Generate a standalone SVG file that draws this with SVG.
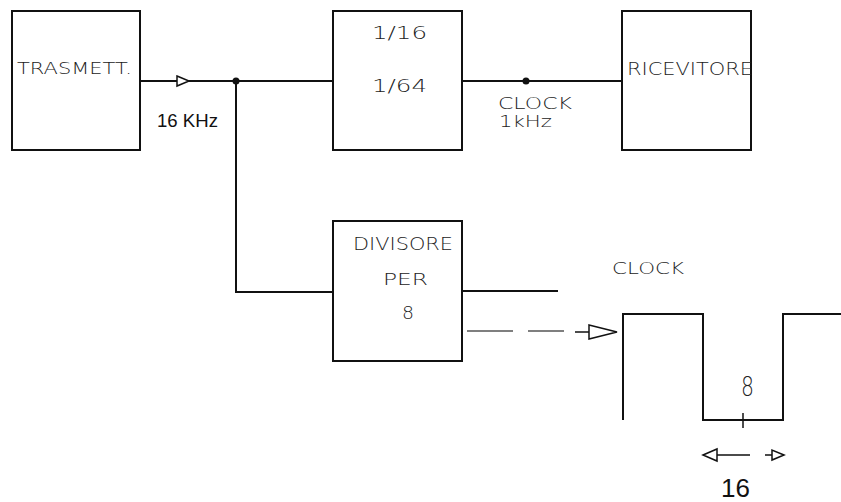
<svg xmlns="http://www.w3.org/2000/svg" width="841" height="502" viewBox="0 0 841 502">
<style>
.box{fill:#fff;stroke:#111;stroke-width:2}
.ln{fill:none;stroke:#111;stroke-width:2}
.thin{fill:none;stroke:#111;stroke-width:1.5}
.dash{fill:none;stroke:#555;stroke-width:1.5}
.tri{fill:#fff;stroke:#111;stroke-width:1.5;stroke-linejoin:miter}
.t{font-family:"DejaVu Sans ExtraLight","DejaVu Sans",sans-serif;fill:#222;font-weight:200}
.a{font-family:"Liberation Sans",Arial,sans-serif;fill:#111}
</style>
<rect width="841" height="502" fill="#fff"/>
<g id="connectors">
<path class="ln" d="M140,81 H333"/>
<path class="ln" d="M236,81 V292 H333"/>
<path class="ln" d="M462,81 H622"/>
<path class="ln" d="M462,291 H558"/>
<circle cx="236" cy="81" r="3.5" fill="#111"/>
<circle cx="526" cy="81" r="3.5" fill="#111"/>
<polygon class="tri" points="177,76 189,81 177,86"/>
<path class="dash" d="M467,331 H513 M528,331 H564"/>
<path class="thin" d="M575,332 H589"/>
<polygon class="tri" points="589,325 617,332 589,339"/>
</g>
<g id="trasmett">
<rect class="box" x="12" y="11" width="128" height="139"/>
<text class="t" x="17" y="74" font-size="15.5" textLength="115" lengthAdjust="spacingAndGlyphs">TRASMETT.</text>
</g>
<g id="divisore16">
<rect class="box" x="333" y="11" width="129" height="139"/>
<text class="t" x="372" y="39" font-size="17" textLength="55" lengthAdjust="spacingAndGlyphs">1/16</text>
<text class="t" x="372" y="92" font-size="17" textLength="55" lengthAdjust="spacingAndGlyphs">1/64</text>
</g>
<g id="ricevitore">
<rect class="box" x="622" y="11" width="129" height="139"/>
<text class="t" x="627" y="75" font-size="18" textLength="126" lengthAdjust="spacingAndGlyphs">RICEVITORE</text>
</g>
<g id="divisore8">
<rect class="box" x="333" y="221" width="129" height="140"/>
<text class="t" x="353" y="250" font-size="18" textLength="100" lengthAdjust="spacingAndGlyphs">DIVISORE</text>
<text class="t" x="383" y="285" font-size="15.5" textLength="45" lengthAdjust="spacingAndGlyphs">PER</text>
<text class="t" x="402" y="319" font-size="17" textLength="12" lengthAdjust="spacingAndGlyphs">8</text>
</g>
<g id="labels">
<text class="a" x="157" y="127" font-size="18" textLength="61" lengthAdjust="spacingAndGlyphs">16 KHz</text>
<text class="t" x="498" y="109" font-size="16" textLength="74" lengthAdjust="spacingAndGlyphs">CLOCK</text>
<text class="t" x="499" y="127" font-size="16" textLength="53" lengthAdjust="spacingAndGlyphs">1kHz</text>
<text class="t" x="612" y="274" font-size="15.5" textLength="72" lengthAdjust="spacingAndGlyphs">CLOCK</text>
</g>
<g id="clock-wave">
<path class="ln" d="M623,420 V314 H703 V420 H783 V314 H841"/>
<path class="thin" d="M743,413 V428"/>
<text class="t" x="741" y="396" font-size="26" textLength="13" lengthAdjust="spacingAndGlyphs">8</text>
<path class="thin" d="M703,455 H750 M765,455 H784"/>
<polygon class="tri" points="703,455 717,449 717,461"/>
<polygon class="tri" points="784,455 772,450 772,460"/>
<text class="a" x="721" y="497" font-size="26">16</text>
</g>
</svg>
